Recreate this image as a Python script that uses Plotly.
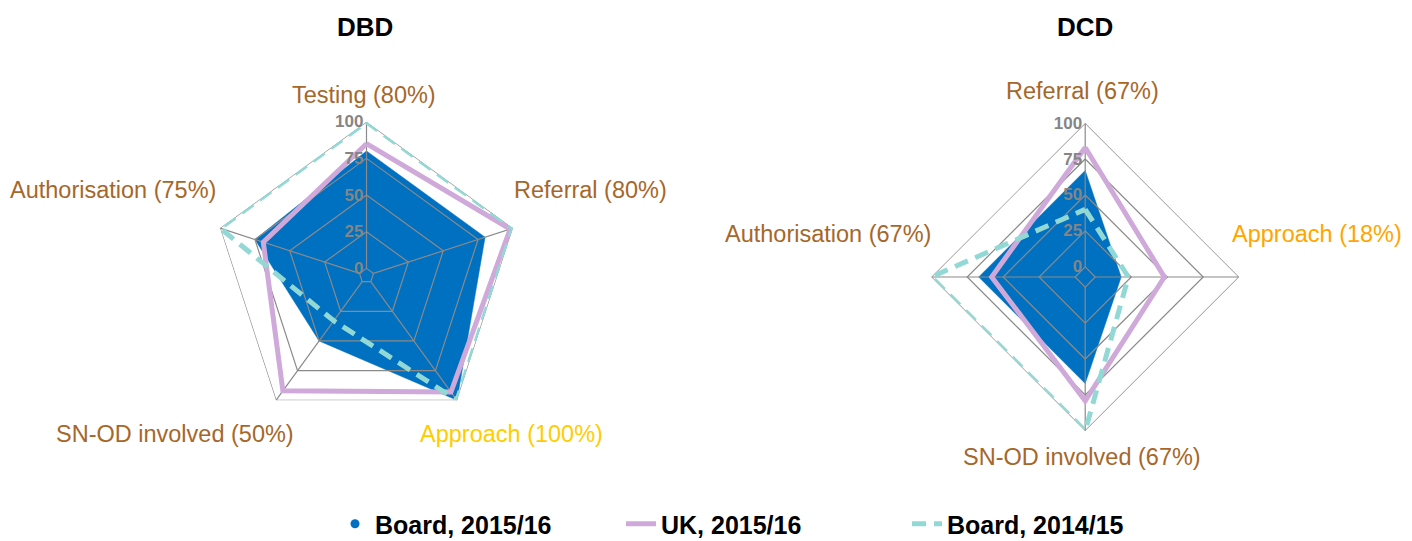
import plotly.graph_objects as go

# ---------------- data ----------------
dbd_categories = ["Testing", "Referral", "Approach", "SN-OD involved", "Authorisation"]
dbd_board_1516 = [80, 80, 100, 50, 75]
dbd_uk_1516 = [85, 98, 93, 92, 69]
dbd_board_1415 = [100, 100, 100, 33, 100]

dcd_categories = ["Referral", "Approach", "SN-OD involved", "Authorisation"]
dcd_board_1516 = [67, 18, 67, 67]
dcd_uk_1516 = [83, 48, 79, 58]
dcd_board_1415 = [40, 23, 100, 100]

radial_ticks = [0, 25, 50, 75, 100]
series_names = ["Board, 2015/16", "UK, 2015/16", "Board, 2014/15"]
chart_titles = ["DBD", "DCD"]

# ---------------- styles ----------------
BLUE = "#0070C0"
PURPLE = "#CFA9D9"
TEAL = "#92D9D5"
GRID = "#8a8a8a"
BROWN = "#A6672A"
GOLD = "#FFCC00"
ORANGE = "#FFA500"
FONT = "Liberation Sans, Arial, sans-serif"

dbd_label_colors = [BROWN, BROWN, GOLD, BROWN, BROWN]
dcd_label_colors = [BROWN, ORANGE, BROWN, BROWN]

# page body has an 8px margin: positions below are in screen coords
OFF = 8
W, H = 1412 - OFF, 547 - OFF


def close(lst):
    return list(lst) + [lst[0]]


fig = go.Figure()


def add_radar(cats, blue, purple, teal, subplot, first):
    fig.add_trace(go.Scatterpolar(
        r=close(blue), theta=close(cats), subplot=subplot,
        mode="lines", fill="toself", fillcolor=BLUE,
        line=dict(color=BLUE, width=0.5),
        name=series_names[0], showlegend=False, hoverinfo="skip"))
    for t in radial_ticks:
        fig.add_trace(go.Scatterpolar(
            r=[t] * (len(cats) + 1), theta=close(cats), subplot=subplot,
            mode="lines", line=dict(color=GRID, width=1.2),
            showlegend=False, hoverinfo="skip"))
    for c in cats:
        fig.add_trace(go.Scatterpolar(
            r=[radial_ticks[0], radial_ticks[-1]], theta=[c, c], subplot=subplot,
            mode="lines", line=dict(color=GRID, width=1.2),
            showlegend=False, hoverinfo="skip"))
    fig.add_trace(go.Scatterpolar(
        r=close(purple), theta=close(cats), subplot=subplot,
        mode="lines", line=dict(color=PURPLE, width=5),
        name=series_names[1], showlegend=first, legendrank=2))
    fig.add_trace(go.Scatterpolar(
        r=close(teal), theta=close(cats), subplot=subplot,
        mode="lines", line=dict(color=TEAL, width=5, dash="14px,8px"),
        name=series_names[2], showlegend=first, legendrank=3))


add_radar(dbd_categories, dbd_board_1516, dbd_uk_1516, dbd_board_1415, "polar", True)
add_radar(dcd_categories, dcd_board_1516, dcd_uk_1516, dcd_board_1415, "polar2", False)

fig.add_trace(go.Scatterpolar(
    r=[None], theta=[None], mode="markers", subplot="polar",
    marker=dict(color=BLUE, size=9), name=series_names[0],
    showlegend=True, legendrank=1))


def polar_layout(cx, cy, R, rmin):
    cx -= OFF
    cy -= OFF
    return dict(
        domain=dict(x=[(cx - R) / W, (cx + R) / W],
                    y=[(H - cy - R) / H, (H - cy + R) / H]),
        gridshape="linear",
        bgcolor="white",
        radialaxis=dict(range=[rmin, 100], tickvals=radial_ticks,
                        showgrid=False, showline=False, ticks="",
                        angle=90, side="counterclockwise", tickangle=90,
                        tickfont=dict(family=FONT, size=17, color="#858585",
                                      weight="bold")),
        angularaxis=dict(rotation=90, direction="clockwise",
                         showgrid=False, showline=False, ticks="",
                         showticklabels=False),
    )


annotations = []


def add_labels(cats, values, colors, specs):
    for c, v, col, (x, y, xa) in zip(cats, values, colors, specs):
        annotations.append(dict(
            text=f"{c} ({v}%)", x=(x - OFF) / W, y=1 - (y - OFF) / H,
            xref="paper", yref="paper",
            xanchor=xa, yanchor="middle", showarrow=False,
            font=dict(family=FONT, size=23.5, color=col)))


add_labels(dbd_categories, dbd_board_1516, dbd_label_colors,
           [(364, 95, "center"), (512, 190, "left"), (511, 434, "center"),
            (175, 434, "center"), (218, 190, "right")])
add_labels(dcd_categories, dcd_board_1516, dcd_label_colors,
           [(1082, 91, "center"), (1230, 234, "left"),
            (1082, 457, "center"), (933, 234, "right")])

for title, x in zip(chart_titles, [365, 1085]):
    annotations.append(dict(
        text=title, x=(x - OFF) / W, y=1 - (27 - OFF) / H,
        xref="paper", yref="paper",
        xanchor="center", yanchor="middle", showarrow=False,
        font=dict(family=FONT, size=26, color="black", weight="bold")))

fig.update_layout(
    width=W, height=H,
    margin=dict(l=0, r=0, t=0, b=0),
    paper_bgcolor="white",
    plot_bgcolor="white",
    polar=polar_layout(366.5, 275.7, 154, -5),
    polar2=polar_layout(1085.2, 277, 154, -7),
    annotations=annotations,
    showlegend=True,
    legend=dict(orientation="h", x=327 / W, xanchor="left",
                y=0, yanchor="bottom",
                font=dict(family=FONT, size=25, color="black", weight="bold"),
                entrywidth=241, entrywidthmode="pixels",
                bgcolor="rgba(0,0,0,0)"),
)

fig.write_html("out.html")
